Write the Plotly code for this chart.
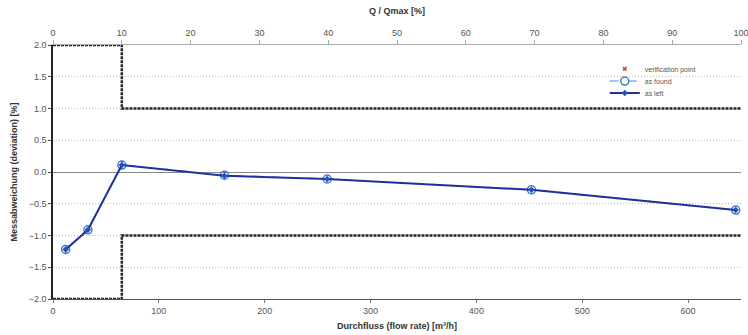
import plotly.graph_objects as go

# Data
flow_as_found = [12, 33, 65, 162, 259, 452, 645]
dev_as_found = [-1.22, -0.91, 0.11, -0.05, -0.11, -0.28, -0.60]
flow_as_left = [12, 33, 65, 162, 259, 452, 645]
dev_as_left = [-1.22, -0.91, 0.11, -0.06, -0.11, -0.28, -0.60]
err_as_left = [0.06, 0.04, 0.07, 0.07, 0.03, 0.04, 0.03]

limit_x = [0, 65, 65, 650]
upper_limit = [2.0, 2.0, 1.0, 1.0]
lower_limit = [-2.0, -2.0, -1.0, -1.0]

pct_ticks = [0, 10, 20, 30, 40, 50, 60, 70, 80, 90, 100]

FONT = "Liberation Sans, Arial, sans-serif"

fig = go.Figure()

# limit lines
for yy in (upper_limit, lower_limit):
    fig.add_trace(go.Scatter(
        x=limit_x, y=yy, mode="lines",
        line=dict(color="#262626", width=2.5, dash="3px,1px"),
        showlegend=False, hoverinfo="skip"))

# verification point (legend only)
fig.add_trace(go.Scatter(
    x=[None], y=[None], mode="markers", name="verification point",
    marker=dict(symbol="x", size=4, color="#d04040"), legend="legend"))

# as found
fig.add_trace(go.Scatter(
    x=flow_as_found, y=dev_as_found, mode="lines+markers", name="as found",
    line=dict(color="#7fb2e5", width=1.5, dash="dash"),
    marker=dict(symbol="circle-open", size=8, color="#3a7fd0", line=dict(width=1.5)),
    legend="legend2"))

# as left
fig.add_trace(go.Scatter(
    x=flow_as_left, y=dev_as_left, mode="lines+markers", name="as left",
    line=dict(color="#22309a", width=2),
    marker=dict(symbol="diamond", size=5, color="#2a50c0"),
    error_y=dict(type="data", array=err_as_left, color="#4a70c8", thickness=1, width=0),
    legend="legend3"))

# dummy trace for top axis
fig.add_trace(go.Scatter(
    x=[0, 100], y=[0, 0], xaxis="x2", mode="lines", opacity=0,
    showlegend=False, hoverinfo="skip"))

leg = dict(xanchor="left", yanchor="middle", bgcolor="rgba(0,0,0,0)",
           font=dict(size=7, color="#555"), itemsizing="trace")
fig.update_layout(
    width=748, height=335,
    margin=dict(l=53, r=7, t=45, b=36, autoexpand=False),
    paper_bgcolor="white", plot_bgcolor="white",
    font=dict(family=FONT, size=9, color="#444"),
    showlegend=True,
    legend=dict(x=0.802, y=0.906, **leg),
    legend2=dict(x=0.802, y=0.858, **leg),
    legend3=dict(x=0.802, y=0.811, **leg),
    xaxis=dict(range=[0, 650], dtick=100, tick0=0, automargin=False,
               showgrid=False, zeroline=False,
               showline=True, linecolor="#555", linewidth=1,
               ticks="outside", ticklen=3, tickcolor="#777",
               tickfont=dict(size=9, color="#555"),
               title=dict(text="<b>Durchfluss (flow rate) [m³/h]</b>",
                          font=dict(size=9, color="#333"), standoff=7)),
    xaxis2=dict(range=[0, 100], tickvals=pct_ticks, overlaying="x", side="top",
                automargin=False,
                showgrid=False, zeroline=False,
                showline=True, linecolor="#aaa", linewidth=1,
                ticks="outside", ticklen=4, tickcolor="#aaa",
                ticklabeloverflow="allow",
                tickfont=dict(size=9, color="#555"),
                title=dict(text="<b>Q / Qmax [%]</b>",
                           font=dict(size=9, color="#333"), standoff=12)),
    yaxis=dict(range=[-2.0, 2.0], dtick=0.5, tickformat=".1f", automargin=False,
               showgrid=True, gridcolor="#bbb", griddash="1px,2px", gridwidth=1,
               zeroline=True, zerolinecolor="#888", zerolinewidth=1,
               showline=True, linecolor="#222", linewidth=1.5,
               ticks="outside", ticklen=3, tickcolor="#444",
               tickfont=dict(size=9, color="#555"),
               title=dict(text="<b>Messabweichung (deviation) [%]</b>",
                          font=dict(size=9, color="#333"), standoff=10)),
)

fig.write_html("out.html")
